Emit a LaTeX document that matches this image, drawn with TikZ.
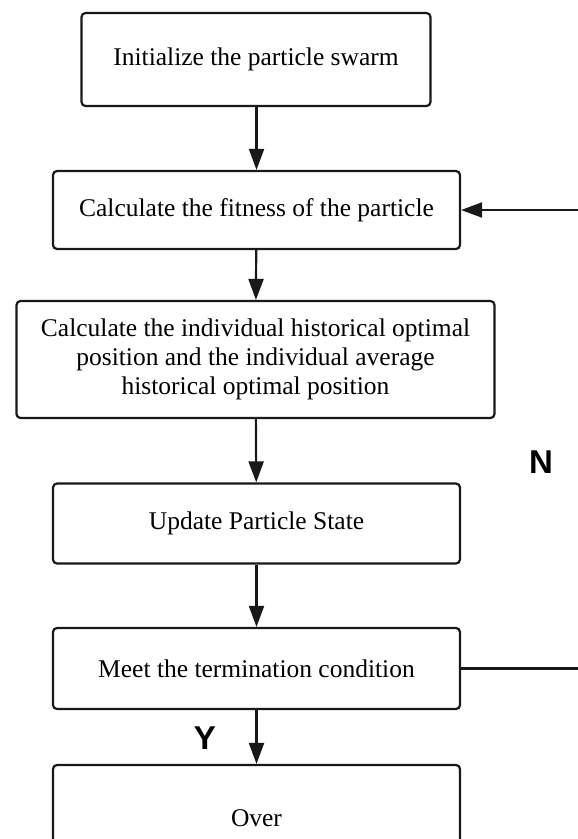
\documentclass[tikz,border=0pt]{standalone}
\usepackage{fontspec}
\setmainfont{Liberation Serif}
\newfontfamily\labelfont{Liberation Sans}
\usetikzlibrary{arrows.meta}
\begin{document}
\begin{tikzpicture}[x=1pt,y=-1pt,
  stepbox/.style={draw=black!90, line width=2.2pt, rounded corners=4pt,
    align=center, inner sep=0pt, font=\fontsize{25.5}{29}\selectfont},
  flow/.style={draw=black!90, line width=2.2pt,
    -{Triangle[length=21pt,width=15pt]}},
  yn/.style={font=\labelfont\bfseries\fontsize{33}{33}\selectfont}]
\useasboundingbox (0,0) rectangle (578,839);
\clip (0,0) rectangle (578,839);
\fill[white] (0,0) rectangle (578,839);

\node[stepbox, minimum width=349pt, minimum height=93pt] (init) at (256,59.5)
  {Initialize the particle swarm};
\node[stepbox, minimum width=407pt, minimum height=78pt] (fit) at (256.5,210)
  {Calculate the fitness of the particle};
\node[stepbox, minimum width=478pt, minimum height=117pt] (best) at (255.5,359.5)
  {Calculate the individual historical optimal\\
   position and the individual average\\
   historical optimal position};
\node[stepbox, minimum width=407pt, minimum height=80pt] (upd) at (256.5,523.5)
  {Update Particle State};
\node[stepbox, minimum width=407pt, minimum height=81pt] (meet) at (256.5,668.5)
  {Meet the termination condition};
\node[stepbox, minimum width=407pt, minimum height=106pt] (over) at (256.5,818)
  {Over};

\draw[flow] (init.south -| fit.north) -- (fit.north);
\draw[flow] (fit) -- (best);
\draw[flow] (best) -- (upd);
\draw[flow] (upd) -- (meet);
\draw[flow] (meet) -- (over);

% loop back when the condition is not met
\draw[flow] (meet.east) -- ++(150,0) coordinate (loop) |- (fit.east);

\node[yn] (n) at (541,462) {N};
\node[yn] (y) at (205,738) {Y};
\end{tikzpicture}
\end{document}
